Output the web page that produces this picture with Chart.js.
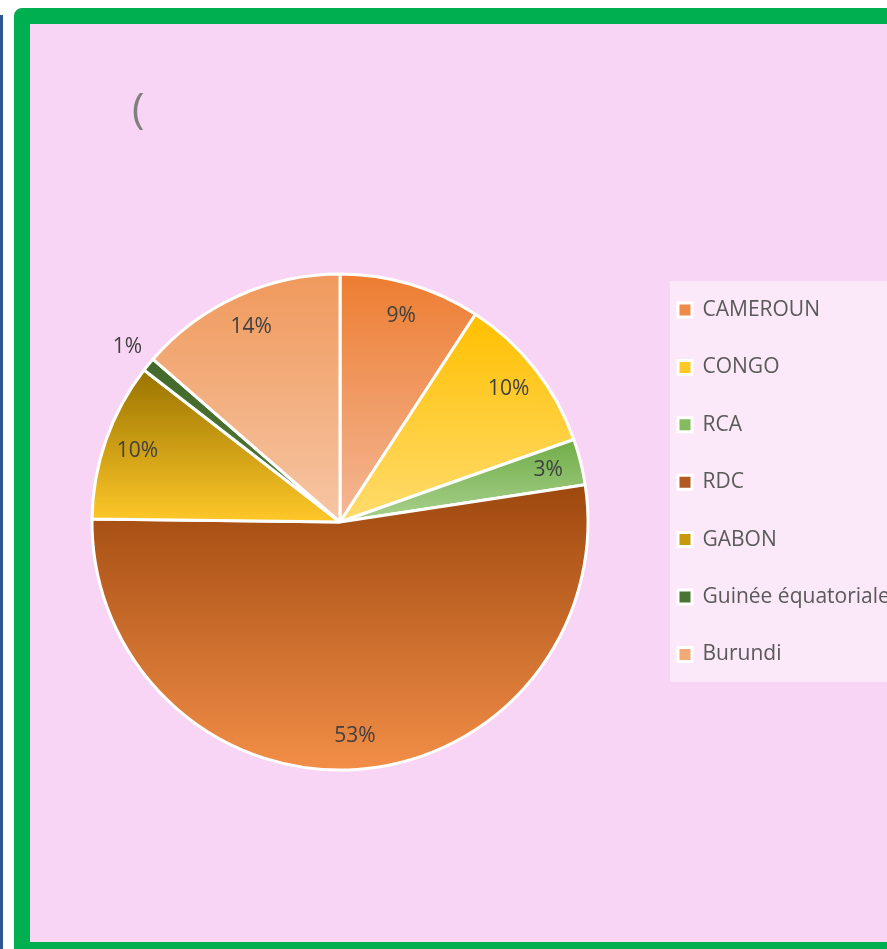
<!DOCTYPE html>
<html lang="fr">
<head>
<meta charset="utf-8">
<title>Répartition par pays</title>
<script src="https://cdn.jsdelivr.net/npm/chart.js@4.4.1/dist/chart.umd.min.js"></script>
<style>
  html, body { margin:0; padding:0; background:#fff; overflow:hidden; width:887px; height:949px; }
  .trait { position:absolute; left:0; top:15px; width:3px; height:934px; background:#2F5597; }
  .cadre { position:absolute; left:14px; top:8px; width:900px; height:918px;
           border:16px solid #00B050; border-top-left-radius:8px; background:#F8D5F4; }
  .cadre canvas { position:absolute; left:0; top:0; }
  .titre { position:absolute; left:132px; top:78px; font-family:"Open Sans", sans-serif;
           font-size:42px; color:#808080; }
</style>
</head>
<body>
<div class="trait"></div>
<div class="cadre">
  <canvas id="camembert" width="900" height="918"></canvas>
</div>
<div class="titre">(</div>

<script>
// donnees
var pays = ['CAMEROUN', 'CONGO', 'RCA', 'RDC', 'GABON', 'Guinée équatoriale', 'Burundi'];
var parts = [9.2, 10.4, 3.0, 52.6, 10.3, 0.9, 13.6];

// couleurs des degrades (haut -> bas de chaque part)
var couleursHaut = ['#ED7D31', '#FFC000', '#70AD47', '#9E480E', '#997300', '#43682B', '#F0995C'];
var couleursBas  = ['#F4B896', '#FFDB6E', '#A9D18E', '#F28E47', '#FFC829', '#4F7A34', '#F6C6A4'];
var couleursLegende = ['#EF8A4A', '#FFC925', '#83BB5E', '#B35A21', '#C79A0E', '#4A7431', '#F2A877'];

Chart.defaults.font.family = '"Open Sans", sans-serif';

var total = parts.reduce(function(a, b){ return a + b; }, 0);

// legende : taille du texte et marge droite pour que la legende commence au bon endroit
var policeLegende = 21, espacement = 36.4, carre = 14;
var mesure = document.createElement('canvas').getContext('2d');
mesure.font = policeLegende + 'px "Open Sans", sans-serif';
var texteMax = Math.max.apply(null, pays.map(function(p){ return mesure.measureText(p).width; }));
var largeurLegende = espacement + carre + policeLegende / 2 + texteMax + 10;
var gaucheLegende = 611.6;
var padDroite = document.getElementById('camembert').width - gaucheLegende - largeurLegende;

// degrade vertical sur la hauteur de chaque part
var degrade = {
    id: 'degrade',
    beforeDatasetsDraw: function(chart) {
        var ctx = chart.ctx;
        chart.getDatasetMeta(0).data.forEach(function(arc, i) {
            var ys = [arc.y,
                      arc.y + arc.outerRadius * Math.sin(arc.startAngle),
                      arc.y + arc.outerRadius * Math.sin(arc.endAngle)];
            var haut = -Math.PI / 2, bas = Math.PI / 2;
            [haut, haut + 2 * Math.PI, bas].forEach(function(a) {
                if (a > arc.startAngle && a < arc.endAngle) ys.push(arc.y + arc.outerRadius * Math.sin(a));
            });
            if (arc.startAngle <= haut + 1e-6) ys.push(arc.y - arc.outerRadius);
            var g = ctx.createLinearGradient(0, Math.min.apply(null, ys), 0, Math.max.apply(null, ys));
            g.addColorStop(0, couleursHaut[i]);
            g.addColorStop(1, couleursBas[i]);
            arc.options = Object.assign({}, arc.options, { backgroundColor: g });
        });
    }
};

// fond clair derriere la legende
var fondLegende = {
    id: 'fondLegende',
    beforeDraw: function(chart) {
        var boites = chart.legend.legendHitBoxes;
        if (!boites || !boites.length) return;
        var premier = boites[0], dernier = boites[boites.length - 1];
        var ctx = chart.ctx;
        ctx.save();
        ctx.fillStyle = '#FBE8F8';
        ctx.fillRect(premier.left - 8, premier.top - 18.5, chart.width, dernier.top + 38 - (premier.top - 18.5));
        ctx.restore();
    }
};

// pourcentages sur les parts
var etiquettes = {
    id: 'etiquettes',
    afterDatasetsDraw: function(chart) {
        var ctx = chart.ctx;
        var valeurs = chart.data.datasets[0].data;
        ctx.save();
        ctx.font = '21px "Open Sans", sans-serif';
        ctx.fillStyle = '#404040';
        ctx.textAlign = 'center';
        ctx.textBaseline = 'middle';
        chart.getDatasetMeta(0).data.forEach(function(arc, i) {
            var pct = valeurs[i] / total * 100;
            var milieu = (arc.startAngle + arc.endAngle) / 2;
            var r = arc.outerRadius * (pct < 2 ? 1.11 : 0.865);
            ctx.fillText(Math.round(pct) + '%', arc.x + r * Math.cos(milieu), arc.y + r * Math.sin(milieu));
        });
        ctx.restore();
    }
};

var camembert = new Chart(document.getElementById('camembert'), {
    type: 'pie',
    data: {
        labels: pays,
        datasets: [{
            data: parts,
            backgroundColor: couleursLegende,
            borderColor: '#FFFFFF',
            borderWidth: 3
        }]
    },
    options: {
        responsive: false,
        animation: false,
        radius: 248,
        layout: { padding: { left: 8.4, top: 239.1, right: padDroite, bottom: 161.1 } },
        plugins: {
            title: { display: false },
            tooltip: { enabled: false },
            legend: {
                position: 'right',
                align: 'start',
                fullSize: false,
                labels: {
                    boxWidth: carre,
                    boxHeight: carre,
                    padding: espacement,
                    color: '#595959',
                    font: { size: policeLegende },
                    generateLabels: function(chart) {
                        return chart.data.labels.map(function(nom, i) {
                            return { text: nom, fillStyle: couleursLegende[i], strokeStyle: '#FFFFFF',
                                     lineWidth: 3, fontColor: '#595959', hidden: false, index: i };
                        });
                    }
                }
            }
        }
    },
    plugins: [degrade, fondLegende, etiquettes]
});
</script>
</body>
</html>
